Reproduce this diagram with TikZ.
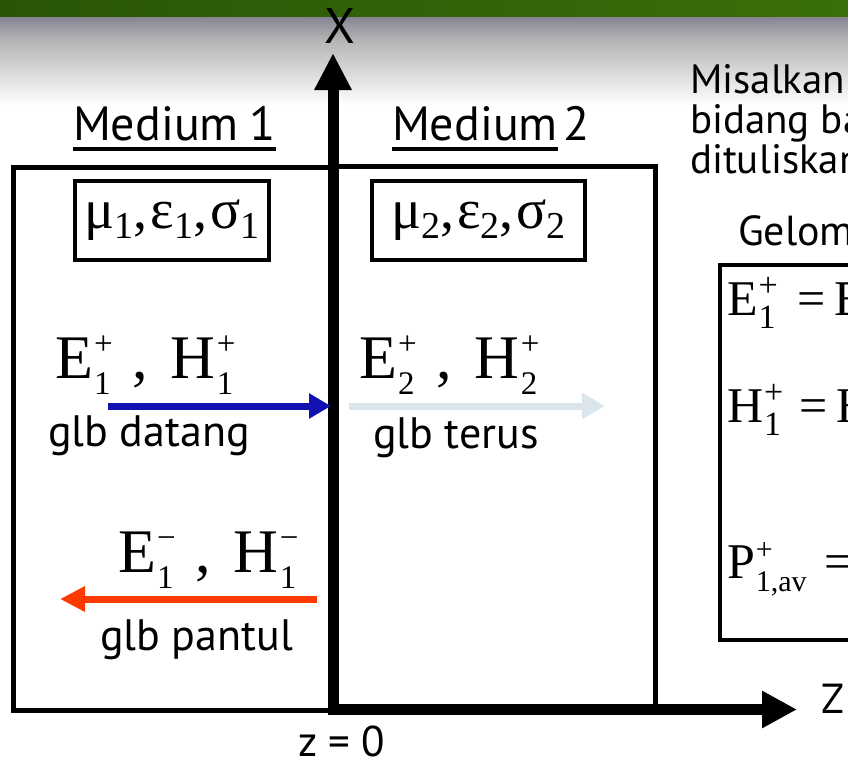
\documentclass[tikz,border=0pt]{standalone}
\usepackage{fontspec}
\setmainfont{PT Sans}
\newfontfamily\tms{Liberation Serif}
\usetikzlibrary{arrows.meta}
\definecolor{bandL}{RGB}{42,85,8}
\definecolor{bandR}{RGB}{58,112,8}
\definecolor{shadeA}{RGB}{134,132,146}
\definecolor{shadeB}{RGB}{182,180,180}
\definecolor{incblue}{RGB}{18,18,178}
\definecolor{transm}{RGB}{218,230,235}
\definecolor{reflred}{RGB}{255,58,0}
\newcommand\fs[1]{\fontsize{#1}{#1}\selectfont}
\newcommand\supsub[4]{#1\kern0.02em\rlap{\raisebox{0.38em}{\fs{#4}#2}}\raisebox{-0.27em}{\fs{#4}#3}}
\newcommand\lo[1]{\raisebox{-0.18em}{\fs{38}#1}}
\begin{document}
\begin{tikzpicture}[x=1pt,y=-1pt,
  txt/.style={anchor=base west, inner sep=0pt, outer sep=0pt},
  mbox/.style={draw=black, line width=5pt},
  parbox/.style={draw=black, line width=3.5pt, inner sep=0pt},
  axisline/.style={line width=11pt, black},
  wave/.style={line width=7pt}]
\useasboundingbox (0,0) rectangle (848,763);
\fill[white] (0,0) rectangle (848,763);
% header band
\shade[left color=bandL, right color=bandR] (0,0) rectangle (848,17);
\shade[top color=shadeA, bottom color=shadeB] (0,17) rectangle (848,40);
\shade[top color=shadeB, bottom color=white] (0,40) rectangle (848,105);
% medium boxes
\draw[mbox] (13,167) rectangle (333,710);
\draw[mbox] (333,166) rectangle (655,710);
% equation box
\draw[line width=3.5pt] (900,265) -- (720,265) -- (720,640) -- (900,640);
% axes
\coordinate (O) at (333,715);
\coordinate (Oh) at (328,709.5);
\coordinate (Xtip) at (333,53);
\coordinate (Ztip) at (797,709.5);
\draw[axisline, -{Triangle[length=37pt,width=35pt]}] (O) -- (Xtip);
\draw[axisline, -{Triangle[length=35pt,width=35pt]}] (Oh) -- (Ztip);
\node[txt, anchor=base, font=\fs{50}] (xl) at (340,43) {X};
\node[txt, font=\fs{42}] (zl) at (821,713) {Z};
\node[txt, font=\fs{43}] (z0) at (298,756) {z = 0};
% medium labels
\node[txt, font=\fs{48}] (m1) at (73,140) {Medium\kern-2pt{} 1};
\draw[line width=4pt] ([yshift=-9pt]m1.base west) -- ([yshift=-9pt]m1.base east);
\node[txt, font=\fs{48}] (m2) at (392,140) {Medium};
\node[txt, font=\fs{48}, xshift=6pt] (m2n) at (m2.base east) {2};
\draw[line width=4pt] ([yshift=-9pt]m2.base west) -- ([yshift=-9pt]m2.base east);
% parameter boxes
\node[parbox, minimum width=194pt, minimum height=79pt] (p1) at (172,220.5)
  {\tms\fs{56}μ\lo{1},\kern3ptε\lo{1},\kern3ptσ\lo{1}};
\node[parbox, minimum width=213pt, minimum height=79pt] (p2) at (478.5,220.5)
  {\tms\fs{56}μ\lo{2},\kern3ptε\lo{2},\kern3ptσ\lo{2}};
% field labels
\node[txt] (f1) at (55,378) {\tms\fs{62}\supsub{E}{+}{1}{33}\kern0.36em,\kern0.36em\supsub{H}{+}{1}{33}};
\node[txt] (f2) at (359,378) {\tms\fs{62}\supsub{E}{+}{2}{33}\kern0.36em,\kern0.36em\supsub{H}{+}{2}{33}};
\node[txt] (f3) at (118,572) {\tms\fs{62}\supsub{E}{−}{1}{33}\kern0.36em,\kern0.36em\supsub{H}{−}{1}{33}};
% wave arrows
\coordinate (b1) at (108,406);
\coordinate (b2) at (331,406);
\coordinate (t1) at (349,406);
\coordinate (t2) at (605,406);
\coordinate (r1) at (317,599);
\coordinate (r2) at (60,599);
\draw[wave, incblue, -{Triangle[length=22pt,width=24pt]}] (b1) -- (b2);
\draw[wave, transm, -{Triangle[length=23pt,width=25pt]}] (t1) -- (t2);
\draw[wave, reflred, -{Triangle[length=25pt,width=24pt]}] (r1) -- (r2);
\node[txt, font=\fs{44}] (g1) at (48,446) {glb datang};
\node[txt, font=\fs{44}] (g2) at (373,448) {glb terus};
\node[txt, font=\fs{44}] (g3) at (100,650) {glb pantul};
% right text
\node[txt, font=\fs{41}] (s1) at (690,93) {Misalkan};
\node[txt, font=\fs{41}] (s2) at (690,133) {bidang ba};
\node[txt, font=\fs{41}] (s3) at (690,173) {dituliskan};
\node[txt, font=\fs{42}] (s4) at (738,245) {Gelom};
% equations
\node[txt] (e1) at (727,315) {\tms\fs{50}\supsub{E}{+}{1}{34}\kern22pt=\kern9pt E};
\node[txt] (e2) at (727,422) {\tms\fs{50}\supsub{H}{+}{1}{34}\kern18pt=\kern9pt H};
\node[txt] (e3) at (727,578) {\tms\fs{50}\supsub{P}{+}{1,av}{30}\kern18pt=};
\end{tikzpicture}
\end{document}
